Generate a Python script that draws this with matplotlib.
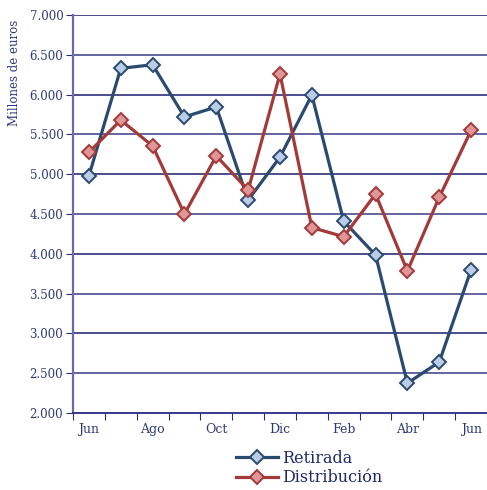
import matplotlib
matplotlib.use("Agg")
import matplotlib.pyplot as plt

months = ["Jun", "Jul", "Ago", "Sep", "Oct", "Nov", "Dic", "Ene", "Feb", "Mar", "Abr", "May", "Jun"]
retirada = [4980, 6330, 6375, 5720, 5845, 4675, 5215, 5995, 4410, 3985, 2375, 2640, 3800]
distribucion = [5275, 5680, 5355, 4500, 5230, 4800, 6260, 4330, 4215, 4750, 3785, 4710, 5550]
yticks = [2000, 2500, 3000, 3500, 4000, 4500, 5000, 5500, 6000, 6500, 7000]
ytick_labels = ["2.000", "2.500", "3.000", "3.500", "4.000", "4.500", "5.000", "5.500", "6.000", "6.500", "7.000"]

plt.rcParams['font.family'] = ['DejaVu Serif']
txt = "#2e3a78"
fig = plt.figure(figsize=(4.87, 4.90), dpi=100)
ax = fig.add_axes([73/487, 1-413/490, 1-73/487, (413-15)/490])

x = list(range(len(months)))
ax.set_ylim(2000, 7000)
ax.set_xlim(-0.5, len(months)-0.5)
for i, v in enumerate(yticks[1:]):
    ax.axhline(v, color="#1c1c70" if i % 2 else "#3a3a88", lw=1.1, zorder=1)

ax.plot(x, retirada, color="#2b4a6f", lw=2.3, marker="D", ms=7.5, mfc="#b9cde6",
        mec="#2b4a6f", mew=1.4, zorder=3, label="Retirada")
ax.plot(x, distribucion, color="#a33a3a", lw=2.3, marker="D", ms=7.5, mfc="#e09696",
        mec="#a33a3a", mew=1.4, zorder=3, label="Distribución")

ax.set_yticks(yticks)
ax.set_yticklabels(ytick_labels, color=txt, fontsize=8.5)
ax.set_xticks([i - 0.5 for i in range(len(months)+1)])
ax.set_xticklabels([])
ax.set_xticks(x[::2], minor=True)
ax.set_xticklabels(months[::2], minor=True, color=txt, fontsize=9)
ax.tick_params(axis="x", which="minor", length=0, pad=7)
ax.tick_params(axis="x", which="major", length=5, color="#2a2a80", direction="out")
ax.tick_params(axis="y", length=5, color="#2a2a80", direction="out", pad=2)

for s in ["top", "right"]:
    ax.spines[s].set_visible(False)
ax.spines["left"].set_color("#6a6aa8")
ax.spines["left"].set_linewidth(1.6)
ax.spines["bottom"].set_color("#2a2a80")
ax.spines["bottom"].set_linewidth(1.3)

ax.set_ylabel("Millones de euros", color=txt, fontsize=8.5, labelpad=6, y=0.855)

leg = fig.legend(loc="upper left", bbox_to_anchor=(228/487, 1-442/490), frameon=False,
                 fontsize=11.5, handlelength=2.6, borderpad=0, labelspacing=0.15,
                 handletextpad=0.3)
for t in leg.get_texts():
    t.set_color("#1e2a6a")

fig.savefig("out.png", dpi=100)
